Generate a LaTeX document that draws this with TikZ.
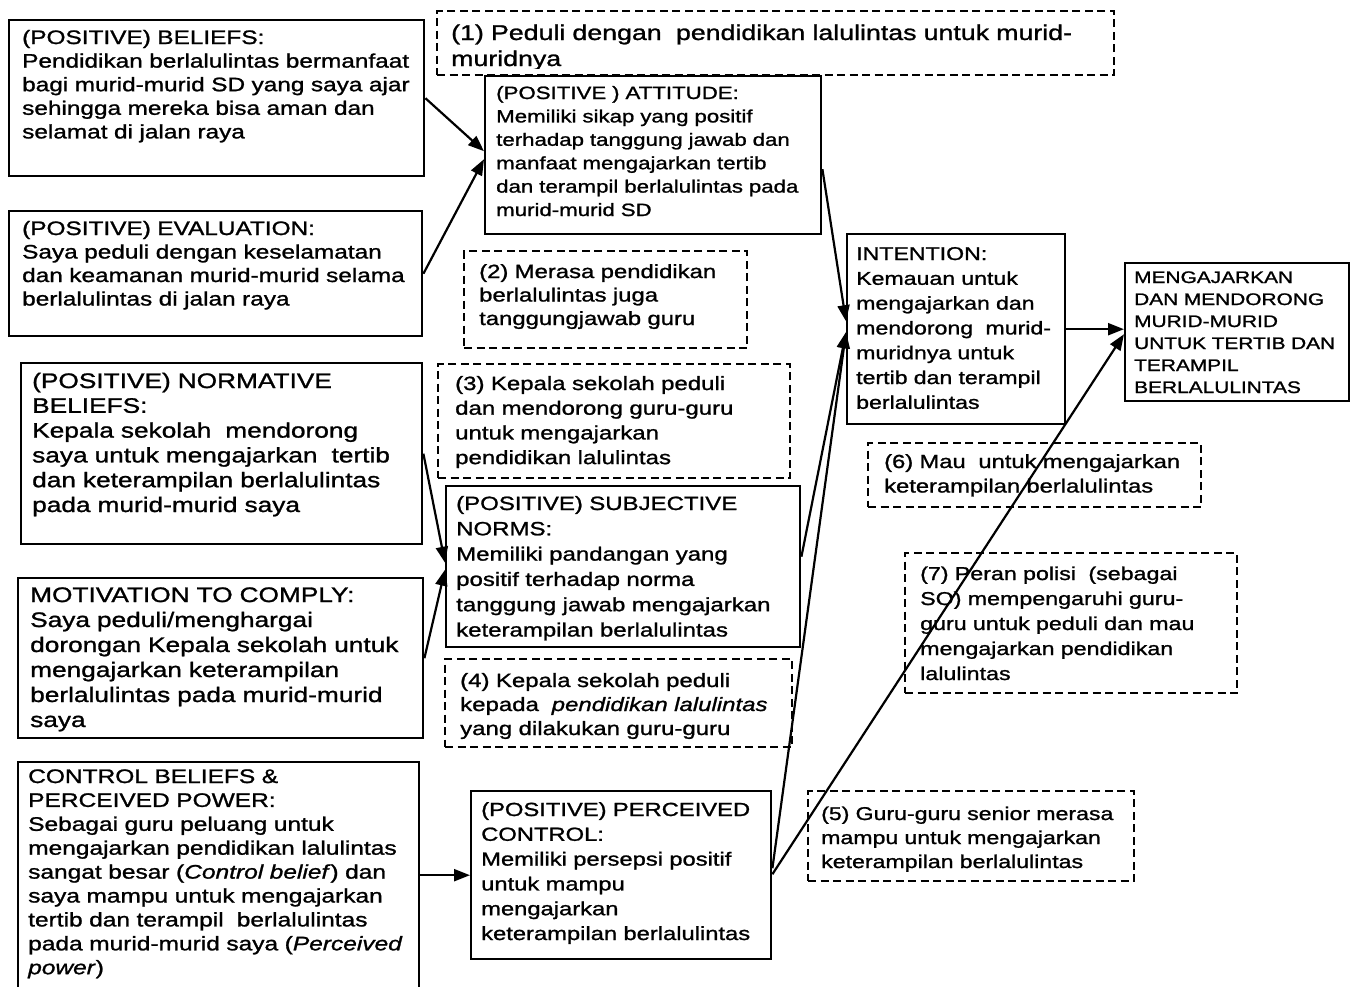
\documentclass[tikz,border=0pt]{standalone}
\usepackage{fontspec}
\setmainfont{Liberation Sans}[FakeStretch=1.25,FakeBold=1.2]
\usetikzlibrary{arrows.meta}
\newcommand\setfs[2]{\fontsize{#1pt}{#2pt}\selectfont}
\begin{document}
\begin{tikzpicture}[x=1pt,y=-1pt,
  solidbox/.style={draw, line width=2.4pt, inner sep=0pt, anchor=north west},
  dashbox/.style={draw, line width=2.2pt, dash pattern=on 8pt off 4.5pt, inner sep=0pt, anchor=north west},
  txt/.style={anchor=base west, inner sep=0pt, align=left, text width=700pt, font=#1},
  link/.style={line width=2.2pt, -{Triangle[length=16pt,width=12pt]}},
]
\useasboundingbox (0,0) rectangle (1352,986);
\fill[white] (0,0) rectangle (1352,986);
\clip (0,0) rectangle (1352,986);

% ---- boxes ----
\node[solidbox, minimum width=415pt, minimum height=156pt] (bel) at (8,19) {};
\node[solidbox, minimum width=413pt, minimum height=125pt] (eva) at (8,210) {};
\node[dashbox, minimum width=677pt, minimum height=64pt] (d1) at (436,10) {};
\node[solidbox, minimum width=336pt, minimum height=158pt] (att) at (484,75) {};
\node[dashbox, minimum width=283pt, minimum height=97pt] (d2) at (463,250) {};
\node[solidbox, minimum width=218pt, minimum height=190pt] (int) at (846,233) {};
\node[solidbox, minimum width=224pt, minimum height=138pt] (out) at (1124,262) {};
\node[dashbox, minimum width=333pt, minimum height=64pt] (d6) at (867,442) {};
\node[solidbox, minimum width=401pt, minimum height=181pt] (norm) at (20,362) {};
\node[solidbox, minimum width=405pt, minimum height=160pt] (mot) at (17,577) {};
\node[dashbox, minimum width=352pt, minimum height=114pt] (d3) at (437,363) {};
\node[solidbox, minimum width=354pt, minimum height=161pt] (sn) at (445,485) {};
\node[dashbox, minimum width=347pt, minimum height=88pt] (d4) at (444,658) {};
\node[dashbox, minimum width=332pt, minimum height=140pt] (d7) at (904,552) {};
\node[solidbox, minimum width=401pt, minimum height=226pt] (ctl) at (17,761) {};
\node[solidbox, minimum width=300pt, minimum height=168pt] (pc) at (470,790) {};
\node[dashbox, minimum width=326pt, minimum height=90pt] (d5) at (807,790) {};

% ---- texts ----
\node[txt=\setfs{19.5}{23.6}] (belT) at (22,44) {(POSITIVE) BELIEFS:\\
Pendidikan berlalulintas bermanfaat\\
bagi murid-murid SD yang saya ajar\\
sehingga mereka bisa aman dan\\
selamat di jalan raya};

\node[txt=\setfs{19.5}{23.5}] (evaT) at (22,235) {(POSITIVE) EVALUATION:\\
Saya peduli dengan keselamatan\\
dan keamanan murid-murid selama\\
berlalulintas di jalan raya};

\begin{scope}
\clip (436,10) rectangle (1113,68);
\node[txt=\setfs{21.4}{26}] (d1T) at (451,40) {(1) Peduli dengan\ \ pendidikan lalulintas untuk murid-\\
muridnya};
\end{scope}

\node[txt=\setfs{17.8}{23.4}] (attT) at (496,99) {(POSITIVE ) ATTITUDE:\\
Memiliki sikap yang positif\\
terhadap tanggung jawab dan\\
manfaat mengajarkan tertib\\
dan terampil berlalulintas pada\\
murid-murid SD};

\node[txt=\setfs{19.1}{23.5}] (d2T) at (479,278) {(2) Merasa pendidikan\\
berlalulintas juga\\
tanggungjawab guru};

\node[txt=\setfs{18.5}{24.8}] (intT) at (856,260) {INTENTION:\\
Kemauan untuk\\
mengajarkan dan\\
mendorong\ \ murid-\\
muridnya untuk\\
tertib dan terampil\\
berlalulintas};

\node[txt=\setfs{16.7}{22}] (outT) at (1134,283) {MENGAJARKAN\\
DAN MENDORONG\\
MURID-MURID\\
UNTUK TERTIB DAN\\
TERAMPIL\\
BERLALULINTAS};

\node[txt=\setfs{19}{24.5}] (d6T) at (884,468) {(6) Mau\ \ untuk mengajarkan\\
keterampilan berlalulintas};

\node[txt=\setfs{21}{24.8}] (normT) at (32,388) {(POSITIVE) NORMATIVE\\
BELIEFS:\\
Kepala sekolah\ \ mendorong\\
saya untuk mengajarkan\ \ tertib\\
dan keterampilan berlalulintas\\
pada murid-murid saya};

\node[txt=\setfs{21}{25}] (motT) at (30,602) {MOTIVATION TO COMPLY:\\
Saya peduli/menghargai\\
dorongan Kepala sekolah untuk\\
mengajarkan keterampilan\\
berlalulintas pada murid-murid\\
saya};

\node[txt=\setfs{19.2}{24.7}] (d3T) at (455,390) {(3) Kepala sekolah peduli\\
dan mendorong guru-guru\\
untuk mengajarkan\\
pendidikan lalulintas};

\node[txt=\setfs{19.2}{25.3}] (snT) at (456,510) {(POSITIVE) SUBJECTIVE\\
NORMS:\\
Memiliki pandangan yang\\
positif terhadap norma\\
tanggung jawab mengajarkan\\
keterampilan berlalulintas};

\node[txt=\setfs{19.2}{24}] (d4T) at (460,687) {(4) Kepala sekolah peduli\\
kepada\ \ \textit{pendidikan lalulintas}\\
yang dilakukan guru-guru};

\node[txt=\setfs{18.6}{25}] (d7T) at (920,580) {(7) Peran polisi\ \ (sebagai\\
SO) mempengaruhi guru-\\
guru untuk peduli dan mau\\
mengajarkan pendidikan\\
lalulintas};

\node[txt=\setfs{19.6}{23.9}] (ctlT) at (28,783) {CONTROL BELIEFS \&\\
PERCEIVED POWER:\\
Sebagai guru peluang untuk\\
mengajarkan pendidikan lalulintas\\
sangat besar (\textit{Control belief}) dan\\
saya mampu untuk mengajarkan\\
tertib dan terampil\ \ berlalulintas\\
pada murid-murid saya (\textit{Perceived}\\
\textit{power})};

\node[txt=\setfs{19}{24.8}] (pcT) at (481,816) {(POSITIVE) PERCEIVED\\
CONTROL:\\
Memiliki persepsi positif\\
untuk mampu\\
mengajarkan\\
keterampilan berlalulintas};

\node[txt=\setfs{18.5}{24}] (d5T) at (821,820) {(5) Guru-guru senior merasa\\
mampu untuk mengajarkan\\
keterampilan berlalulintas};

% ---- connectors ----
\draw[link] (bel.east) -- ([yshift=4pt]att.west);
\draw[link] (eva.east) -- ([yshift=-4pt]att.west);
\draw[link] ([yshift=-14pt]att.east) -- ([yshift=8pt]int.west);
\draw[link] (norm.east) -- ([yshift=4pt]sn.west);
\draw[link] (mot.east) -- ([yshift=-3pt]sn.west);
\draw[link] ([yshift=10pt]sn.east) -- ([yshift=-3pt]int.west);
\draw[link] ([yshift=7pt]pc.east) -- ([yshift=-3pt]int.west);
\draw[link] ([yshift=1pt]pc.east) -- ([yshift=-2pt]out.west);
\draw[link] (int.east) -- (int.east -| out.west);
\draw[link] (ctl.east |- pc.west) -- (pc.west);
\end{tikzpicture}
\end{document}
